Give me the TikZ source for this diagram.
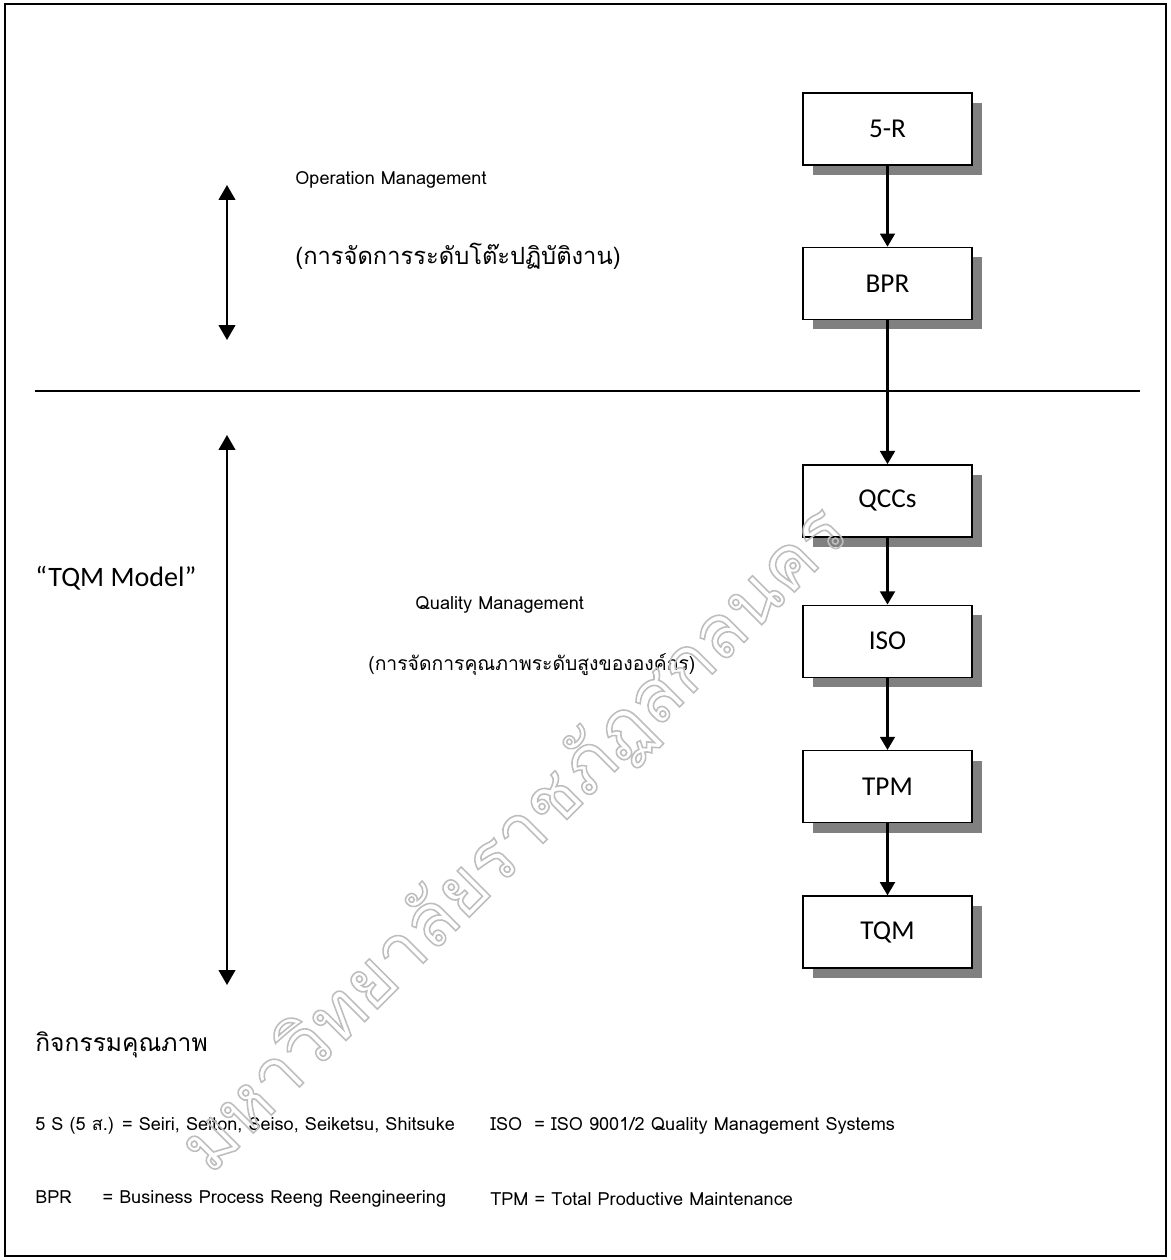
\documentclass[tikz,border=0pt]{standalone}
\usepackage{fontspec}
\setmainfont{Carlito}
\newfontfamily\thaifont[Script=Thai]{Loma}
\usetikzlibrary{arrows.meta,positioning,shadows}
\definecolor{cshadow}{HTML}{808080}
\definecolor{cmark}{HTML}{BEBEBE}
\newcommand{\hollow}[1]{\special{pdf:literal direct 1 Tr 0.9 w}#1\special{pdf:literal direct 0 Tr}}
\tikzset{
  stage/.style={rectangle, draw=black, line width=0.8pt, fill=white,
    minimum width=3.38cm, minimum height=1.44cm, inner sep=0pt,
    font=\fontsize{15.5}{18}\selectfont,
    drop shadow={opacity=1, fill=cshadow, shadow xshift=0.2cm, shadow yshift=-0.2cm}},
  note/.style={anchor=west, inner sep=0pt, font=\thaifont\fontsize{10.3}{12}\selectfont},
  thnote/.style={anchor=west, inner sep=0pt, font=\thaifont\fontsize{11}{14}\selectfont},
  flow/.style={-{Triangle[length=7.5pt,width=8.5pt]}, line width=1.2pt},
  span/.style={{Triangle[length=8.5pt,width=9.5pt]}-{Triangle[length=8.5pt,width=9.5pt]}, line width=1.1pt},
}
\begin{document}
\begin{tikzpicture}[x=0.2mm, y=-0.2mm, node distance=1.44cm]
  \useasboundingbox (0,0) rectangle (1171,1260);
  \draw[line width=1.2pt] (5,4) rectangle (1166,1256);

  % quality chain
  \node[stage] (r5) at (887.5,129) {5-R};
  \node[stage, below=1.62cm of r5] (bpr) {BPR};
  \node[stage, below=2.88cm of bpr] (qcc) {QCCs};
  \node[stage, below=1.34cm of qcc] (iso) {ISO};
  \node[stage, below=of iso] (tpm) {TPM};
  \node[stage, below=of tpm] (tqm) {TQM};

  % level split
  \coordinate (sepw) at (35,391);
  \coordinate (sepe) at (1140,391);
  \draw[line width=1pt] (sepw) -- (sepe);

  \coordinate (optop) at (227,185);
  \coordinate (opbot) at (227,340);
  \coordinate (qmtop) at (227,435);
  \coordinate (qmbot) at (227,985);
  \draw[span] (optop) -- (opbot);
  \draw[span] (qmtop) -- (qmbot);

  \node[note] (opm) at (295,180) {Operation Management};
  \node[thnote, font=\thaifont\fontsize{13.5}{16}\selectfont] (opth) at (295,256) {(การจัดการระดับโต๊ะปฏิบัติงาน)};
  \node[anchor=west, inner sep=0pt, font=\fontsize{16}{19}\selectfont] (model) at (35,578) {“TQM Model”};
  \node[note] (qm) at (415,605) {Quality Management};
  \node[thnote] (qmth) at (368,665) {(การจัดการคุณภาพระดับสูงขององค์กร)};

  \draw[flow] (r5) -- (bpr);
  \draw[flow] (bpr) -- (qcc);
  \draw[flow] (qcc) -- (iso);
  \draw[flow] (iso) -- (tpm);
  \draw[flow] (tpm) -- (tqm);

  % legend
  \node[thnote, font=\thaifont\fontsize{14}{17}\selectfont] (act) at (35,1045) {กิจกรรมคุณภาพ};
  \node[note] (leg5s) at (35,1126) {5 S (5 ส.) = Seiri, Seiton, Seiso, Seiketsu, Shitsuke};
  \node[note] (legiso) at (490,1126) {ISO\ \ = ISO 9001/2 Quality Management Systems};
  \node[note] (legbpr) at (35,1199) {BPR\hspace{1.7em}= Business Process Reeng Reengineering};
  \node[note] (legtpm) at (490,1199) {TPM = Total Productive Maintenance};

  \node[rotate=45, text=cmark, font=\thaifont\fontsize{42}{50}\selectfont] (mark) at (515,840) {\hollow{มหาวิทยาลัยราชภัฏสกลนคร}};
\end{tikzpicture}
\end{document}
